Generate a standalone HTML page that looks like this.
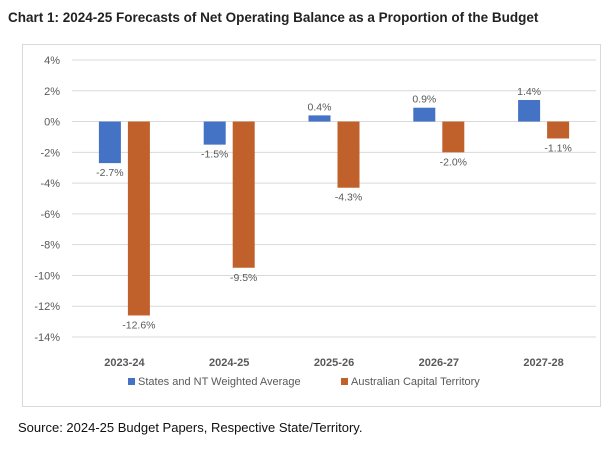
<!DOCTYPE html>
<html><head><meta charset="utf-8"><style>
body{margin:0;width:612px;height:445px;background:#fff;font-family:"Liberation Sans",sans-serif;overflow:hidden}
</style></head><body>
<svg width="612" height="445">
<text x="8" y="22" font-size="13.5" font-weight="bold" fill="#222">Chart 1: 2024-25 Forecasts of Net Operating Balance as a Proportion of the Budget</text>
<rect x="22.5" y="44.5" width="578" height="362" fill="#fff" stroke="#d9d9d9"/>
<g id="grid"></g><g id="bars"></g>
<g font-size="11" fill="#595959">
<rect x="128" y="378" width="7" height="7" fill="#4472c4"/>
<text x="138" y="385">States and NT Weighted Average</text>
<rect x="341" y="378" width="7" height="7" fill="#c0602a"/>
<text x="351" y="385">Australian Capital Territory</text>
</g>
<text x="18" y="432" font-size="13" fill="#111">Source: 2024-25 Budget Papers, Respective State/Territory.</text>
</svg>
<script>
const categories=["2023-24","2024-25","2025-26","2026-27","2027-28"];
const statesValues=[-2.7,-1.5,0.4,0.9,1.4];
const actValues=[-12.6,-9.5,-4.3,-2.0,-1.1];
const tickValues=[4,2,0,-2,-4,-6,-8,-10,-12,-14];
const NS="http://www.w3.org/2000/svg";
const x0=72,x1=596,yTop=60,yBot=337,vMax=4,vMin=-14;
const y=v=>yTop+(vMax-v)/(vMax-vMin)*(yBot-yTop);
const bw=(x1-x0)/categories.length;
const cx=i=>x0+bw*(i+0.5);
function mk(tag,attrs,parent,txt){const e=document.createElementNS(NS,tag);for(const k in attrs)e.setAttribute(k,attrs[k]);if(txt!==undefined)e.textContent=txt;parent.appendChild(e);return e;}
const g=document.getElementById('grid'),b=document.getElementById('bars');
tickValues.forEach(t=>{
 const l=mk('line',{x1:x0,x2:x1,y1:y(t),y2:y(t),stroke:'#d9d9d9'},g);
 
 
 const tx=mk('text',{x:60,y:y(t)+4,'text-anchor':'end','font-size':11,fill:'#595959'},g,t+'%');
 
 
});
categories.forEach((c,i)=>{
 const tx=mk('text',{x:cx(i),y:366,'text-anchor':'middle','font-size':11,'font-weight':'bold',fill:'#595959'},g,c);
 
 
 [[statesValues[i],'#4472c4',-25.5,'bar-states'],[actValues[i],'#c0602a',3.5,'bar-act']].forEach(([v,col,off,nm])=>{
  const yy=Math.min(y(0),y(v)),h=Math.abs(y(v)-y(0));
  const r=mk('rect',{x:cx(i)+off,y:yy,width:22,height:h,fill:col},b);
  
  
  const ly=v>=0?y(v)-5:y(v)+13;
  const lt=mk('text',{x:cx(i)+off+11,y:ly,'text-anchor':'middle','font-size':10.5,fill:'#595959'},b,v.toFixed(1)+'%');
  
  
 });
});
</script>
</body></html>
